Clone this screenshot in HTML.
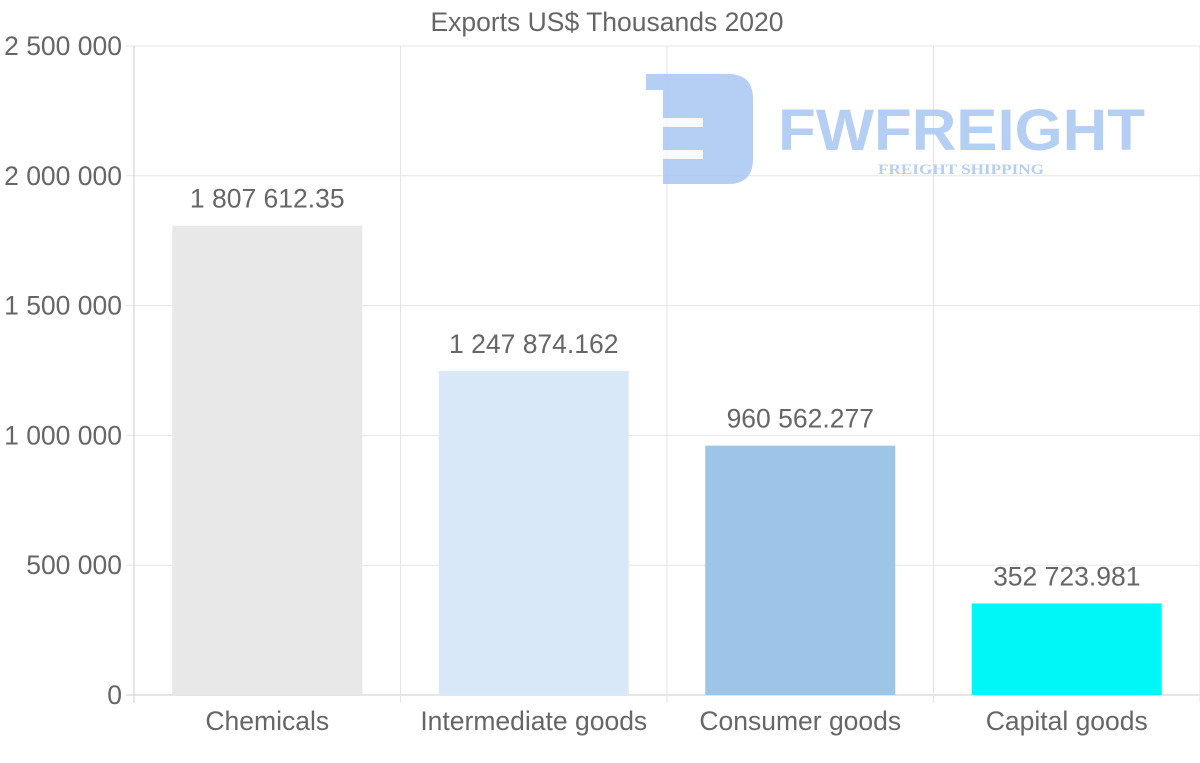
<!DOCTYPE html>
<html><head><meta charset="utf-8"><style>
html,body{margin:0;padding:0;background:#fff;}
svg{display:block;font-family:"Liberation Sans",sans-serif;}
</style></head><body>
<svg id="chart" width="1200" height="763" viewBox="0 0 1200 763">
<text x="607" y="31" text-anchor="middle" font-size="26.5" fill="#666">Exports US$ Thousands 2020</text>
<g id="grid"></g>
<g opacity="0.85">
<path d="M646 74 H728 Q753 74 753 99 V159 Q753 184 728 184 H663 V90 H646 Z" fill="#a9c6f2"/>
<rect x="663" y="118" width="40" height="9" fill="#fff" opacity="0.9"/>
<rect x="663" y="150" width="40" height="9" fill="#fff" opacity="0.9"/>
<text x="778" y="150" font-size="58" font-weight="bold" fill="#a9c6f2" textLength="367" lengthAdjust="spacingAndGlyphs">FWFREIGHT</text>
<text x="878" y="174" font-family="Liberation Serif,serif" font-size="15" font-weight="bold" fill="#a9c6f2" textLength="166" lengthAdjust="spacingAndGlyphs">FREIGHT SHIPPING</text>
</g>
<g id="bars"></g>
</svg>
<script>
const categories=["Chemicals","Intermediate goods","Consumer goods","Capital goods"];
const values=[1807612.35,1247874.162,960562.277,352723.981];
const valueLabels=["1 807 612.35","1 247 874.162","960 562.277","352 723.981"];
const barColors=["#e8e8e8","#d9e8f8","#9dc5e7","#00f7f7"];
const yTicks=[0,500000,1000000,1500000,2000000,2500000];
const yTickLabels=["0","500 000","1 000 000","1 500 000","2 000 000","2 500 000"];
const NS="http://www.w3.org/2000/svg";
const L=134,R=1200,T=46,B=695,yMax=2500000;
const y=v=>B-(v/yMax)*(B-T);
const band=(R-L)/categories.length;
const x=i=>L+band*i;
function mk(tag,attrs,parent,text){const e=document.createElementNS(NS,tag);for(const k in attrs)e.setAttribute(k,attrs[k]);if(text!==undefined)e.textContent=text;parent.appendChild(e);return e;}
const grid=document.getElementById('grid'),bars=document.getElementById('bars');
yTicks.forEach((t,i)=>{
 const ln=mk('line',{x1:L-8,x2:R,y1:y(t),y2:y(t),stroke:i===0?'#ccc':'#e5e5e5','stroke-width':1},grid);
 
 
 const tx=mk('text',{x:L-12,y:y(t)+9,'text-anchor':'end','font-size':26.5,fill:'#666'},grid,yTickLabels[i]);
 
 
});
for(let i=0;i<=categories.length;i++){
 const ln=mk('line',{x1:x(i),x2:x(i),y1:T,y2:B+8,stroke:i===0?'#ccc':'#e5e5e5','stroke-width':1},grid);
 
 
}
categories.forEach((c,i)=>{
 const bw=190,cx=x(i)+band/2;
 const r=mk('rect',{x:cx-bw/2,y:y(values[i]),width:bw,height:B-y(values[i]),fill:barColors[i]},bars);
 
 
 const v=mk('text',{x:cx,y:y(values[i])-18,'text-anchor':'middle','font-size':26.5,fill:'#666'},bars,valueLabels[i]);
 
 
 const l=mk('text',{x:cx,y:730,'text-anchor':'middle','font-size':26.5,fill:'#666'},bars,c);
 
 
});
</script>
</body></html>
